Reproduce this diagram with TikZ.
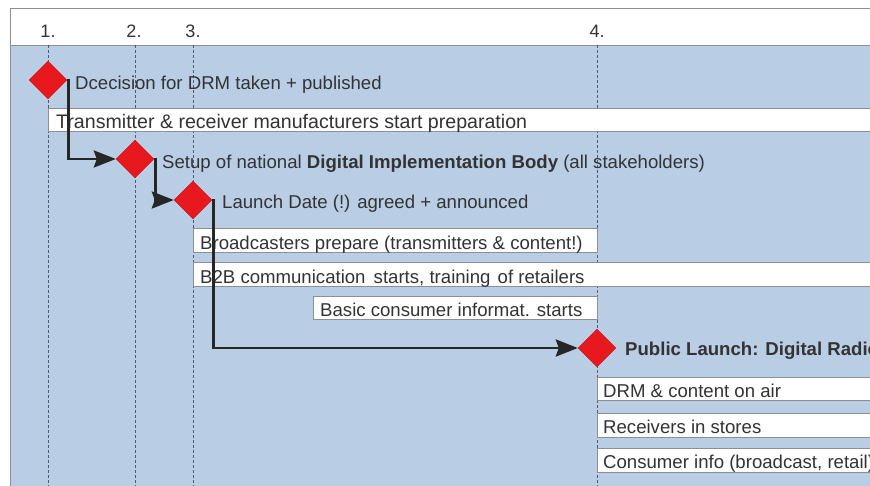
\documentclass[tikz,border=0pt]{standalone}
\usepackage{fontspec}
\setmainfont{Liberation Sans}
\usetikzlibrary{shapes.geometric,arrows.meta}
\definecolor{bluebg}{HTML}{B9CDE5}
\definecolor{msred}{HTML}{E8181F}
\definecolor{txt}{HTML}{333333}
\definecolor{framec}{HTML}{8A8F98}
\definecolor{dashc}{HTML}{4F5B6E}
\pgfdeclarelayer{bglayer}
\pgfdeclarelayer{midlayer}
\pgfsetlayers{bglayer,midlayer,main}
\begin{document}
\begin{tikzpicture}[x=1pt,y=-1pt,
  milestone/.style={diamond, fill=msred, draw=msred!85!black, line width=0.4pt, minimum width=38pt, minimum height=38pt, inner sep=0pt, aspect=1},
  lbl/.style={anchor=base west, font=\fontsize{18.6}{20}\selectfont, text=txt, inner sep=0pt},
  hdr/.style={anchor=base, font=\fontsize{18}{20}\selectfont, text=txt, inner sep=0pt},
  barbox/.style={fill=white, draw=framec, line width=0.8pt},
  guide/.style={dashc, line width=0.7pt, dash pattern=on 3pt off 2pt},
  flow/.style={draw=black!85, line width=2.8pt, -{Stealth[length=22pt,width=17pt,inset=3pt]}},
  ]
\useasboundingbox (0,0) rectangle (870,485);
\clip (0,0) rectangle (870,485);
% milestones
\node[milestone] (d1) at (48,80) {};
\node[milestone] (d2) at (135,159) {};
\node[milestone] (d3) at (193,200) {};
\node[milestone] (d4) at (597,348) {};
\begin{pgfonlayer}{bglayer}
\fill[white] (0,0) rectangle (870,485);
\fill[bluebg] (10,45) rectangle (880,495);
\draw[framec, line width=0.8pt] (880,8) -- (10,8) -- (10,495);
\draw[framec, line width=0.8pt] (10,45) -- (880,45);
% headers
\node[hdr] (h1) at (48,37) {1.};
\node[hdr] (h2) at (134,37) {2.};
\node[hdr] (h3) at (193,37) {3.};
\node[hdr] (h4) at (597,37) {4.};
% guides
\foreach \n/\x in {1/48,2/135,3/193,4/597}{
  \coordinate (g\n t) at (\x,45);
  \coordinate (g\n b) at (\x,490);
  \draw[guide] (g\n t) -- (g\n b);
}
% free labels
\node[lbl] (t1) at (75,89) {Dcecision for DRM taken + published};
\node[lbl] (t2) at (162,168) {Setup of national \textbf{Digital Implementation Body} (all stakeholders)};
\node[lbl] (t3) at (222,208) {Launch Date (!) agreed + announced};
\node[lbl] (t4) at (625,355) {\textbf{Public Launch: Digital Radio}};
% bars
\path[barbox] (48,108) rectangle (880,131);
\node[lbl, font=\fontsize{19.6}{21}\selectfont] (b1) at (56,128) {Transmitter \& receiver manufacturers start preparation};
\path[barbox] (193,228) rectangle (597,252);
\node[lbl] (b2) at (200,249) {Broadcasters prepare (transmitters \& content!)};
\path[barbox] (193,262) rectangle (880,286);
\node[lbl] (b3) at (200,283) {B2B communication\hspace{3pt} starts, training\hspace{2pt} of retailers};
\path[barbox] (313,296) rectangle (597,319);
\node[lbl] (b4) at (320,316) {Basic consumer informat. starts};
\path[barbox] (597,377) rectangle (880,400);
\node[lbl] (b5) at (603,397) {DRM \& content on air};
\path[barbox] (597,413) rectangle (880,437);
\node[lbl] (b6) at (603,433) {Receivers in stores};
\path[barbox] (597,448) rectangle (880,472);
\node[lbl] (b7) at (603,468) {Consumer info (broadcast, retail)};
\end{pgfonlayer}
% flows
\begin{pgfonlayer}{midlayer}
\draw[flow] (d1.east) -- ++(1.5,0) |- (d2.west);
\draw[flow] (d2.east) -- ++(1,0) |- (d3.west);
\draw[flow] (d3.east) -- ++(1.5,0) |- (d4.west);
\end{pgfonlayer}
\end{tikzpicture}
\end{document}
